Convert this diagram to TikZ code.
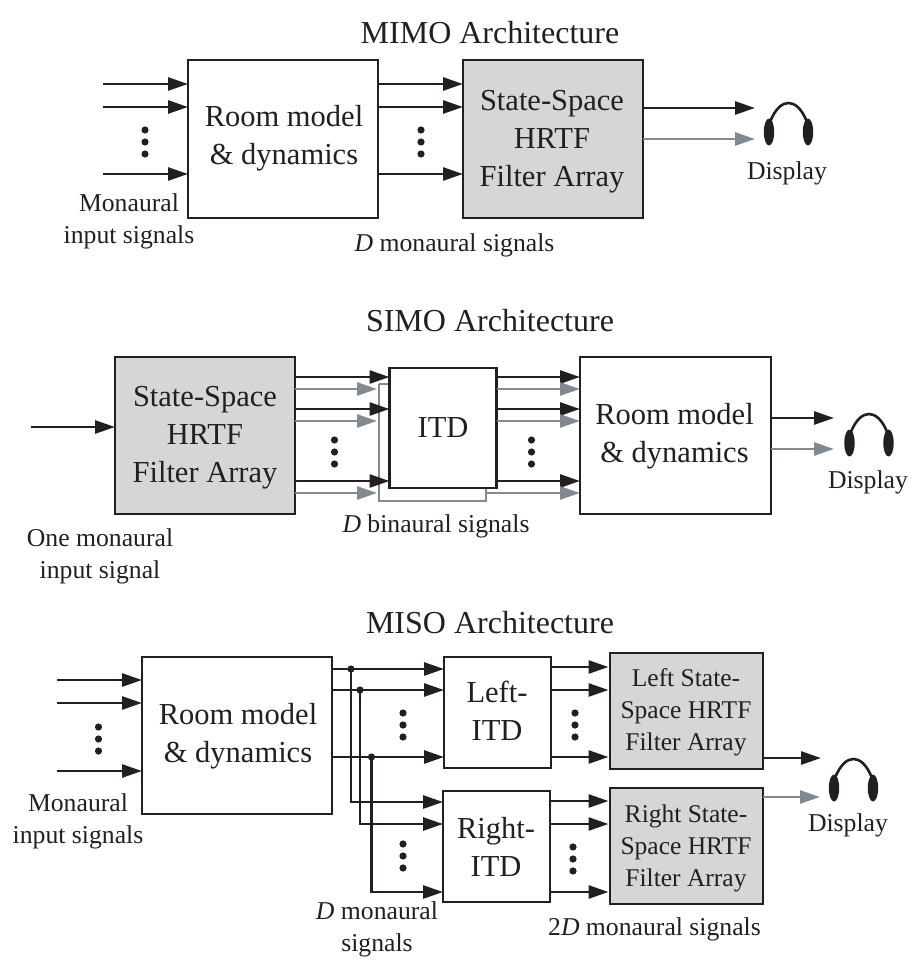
\documentclass[tikz,border=0pt]{standalone}
\usepackage{fontspec}
\setmainfont{Liberation Serif}
\usetikzlibrary{arrows.meta}
\definecolor{ink}{HTML}{231F20}
\definecolor{sigrey}{HTML}{808A90}
\definecolor{boxgrey}{HTML}{D4D6D8}
\tikzset{
  plainbox/.style={draw=ink,fill=white,line width=2.8pt,inner sep=0pt,outer sep=0pt,anchor=north west},
  greybox/.style={plainbox,fill=boxgrey},
  big/.style={text=ink,align=center,inner sep=0pt,font=\fontsize{30.5}{38}\selectfont},
  small/.style={text=ink,align=center,inner sep=0pt,font=\fontsize{25.5}{32}\selectfont},
  sig/.style={draw=ink,line width=2.7pt,-{Triangle[length=20pt,width=13pt]}},
  gsig/.style={draw=sigrey,line width=2.7pt,-{Triangle[length=20pt,width=13pt]}},
  label/.style={text=ink,align=center,font=\fontsize{25.7}{32}\selectfont,inner sep=0pt},
  heading/.style={text=ink,font=\fontsize{32}{36}\selectfont,inner sep=0pt},
  pics/phones/.style={code={
    \fill[ink] (-19.5,0) ellipse [x radius=5.2,y radius=13.5];
    \fill[ink] (19.5,0) ellipse [x radius=5.2,y radius=13.5];
    \draw[ink,line width=2.6pt] (-18.5,-10) .. controls (-13,-24) and (-6,-29) .. (0,-29) .. controls (6,-29) and (13,-24) .. (18.5,-10);
  }}
}
\newcommand{\vdotsat}[2]{\fill[ink] (#1,#2) circle (3.6) (#1,#2+12) circle (3.6) (#1,#2+24) circle (3.6);}
\begin{document}
\begin{tikzpicture}[x=1pt,y=-1pt]
\useasboundingbox (0,0) rectangle (912,960);
% ---------- MIMO
\node[heading] (t1) at (490,33) {MIMO Architecture};
\node[plainbox,minimum width=190pt,minimum height=158pt] (m1) at (188,60) {};
\node[big] (m1t) at (284,138.5) {Room model\\\& dynamics};
\node[greybox,minimum width=180pt,minimum height=158pt] (m2) at (463,60) {};
\node[big] (m2t) at (552,142) {State-Space\\HRTF\\Filter Array};
\coordinate (m1a) at (103,84); \coordinate (m1b) at (103,107); \coordinate (m1c) at (103,174);
\draw[sig] (m1a) -- (m1.west |- m1a);
\draw[sig] (m1b) -- (m1.west |- m1b);
\draw[sig] (m1c) -- (m1.west |- m1c);
\draw[sig] (m1.east |- m1a) -- (m2.west |- m1a);
\draw[sig] (m1.east |- m1b) -- (m2.west |- m1b);
\draw[sig] (m1.east |- m1c) -- (m2.west |- m1c);
\coordinate (mo1) at (755,108); \coordinate (mo2) at (755,139);
\draw[sig] (m2.east |- mo1) -- (mo1);
\draw[gsig] (m2.east |- mo2) -- (mo2);
\vdotsat{145}{130}
\vdotsat{421}{130}
\pic at (788.5,132) {phones};
\node[label] (d1) at (787,173) {Display};
\node[label] (l1) at (129,221) {Monaural\\input signals};
\node[label] (l2) at (454.5,245) {\textit{D} monaural signals};
% ---------- SIMO
\node[heading] (t2) at (490,321) {SIMO Architecture};
\draw[sigrey,line width=2.4pt] (379,384) -- (400,384) (379,384) -- (379,501) -- (486,501) -- (486,480);
\node[greybox,minimum width=180pt,minimum height=157pt] (s1) at (115,357) {};
\node[big] (s1t) at (205,438) {State-Space\\HRTF\\Filter Array};
\node[plainbox,minimum width=107pt,minimum height=120pt] (s2) at (389.5,368) {};
\node[big] (s2t) at (443,428) {ITD};
\node[plainbox,minimum width=191pt,minimum height=157pt] (s3) at (580,357) {};
\node[big] (s3t) at (674.5,436) {Room model\\\& dynamics};
\coordinate (si) at (31,427);
\draw[sig] (si) -- (s1.west |- si);
\coordinate (sga) at (377,389); \coordinate (sgb) at (377,421); \coordinate (sgc) at (377,493);
\coordinate (ska) at (0,377); \coordinate (skb) at (0,409); \coordinate (skc) at (0,481);
\draw[sig] (s1.east |- ska) -- (s2.west |- ska);
\draw[sig] (s1.east |- skb) -- (s2.west |- skb);
\draw[sig] (s1.east |- skc) -- (s2.west |- skc);
\draw[gsig] (s1.east |- sga) -- (sga);
\draw[gsig] (s1.east |- sgb) -- (sgb);
\draw[gsig] (s1.east |- sgc) -- (sgc);
\draw[sig] (s2.east |- ska) -- (s3.west |- ska);
\draw[sig] (s2.east |- skb) -- (s3.west |- skb);
\draw[sig] (s2.east |- skc) -- (s3.west |- skc);
\draw[gsig] (s2.east |- sga) -- (s3.west |- sga);
\draw[gsig] (s2.east |- sgb) -- (s3.west |- sgb);
\draw[gsig] (486,493) -- (s3.west |- sgc);
\vdotsat{334.5}{440}
\vdotsat{531.5}{440}
\coordinate (so1) at (834,418); \coordinate (so2) at (834,449);
\draw[sig] (s3.east |- so1) -- (so1);
\draw[gsig] (s3.east |- so2) -- (so2);
\pic at (869,443) {phones};
\node[label] (d2) at (868,482) {Display};
\node[label] (l3) at (100,556) {One monaural\\input signal};
\node[label] (l4) at (436,526) {\textit{D} binaural signals};
% ---------- MISO
\node[heading] (t3) at (490,623) {MISO Architecture};
\node[plainbox,minimum width=190pt,minimum height=157pt] (r1) at (142,657) {};
\node[big] (r1t) at (238,736.5) {Room model\\\& dynamics};
\node[plainbox,minimum width=107pt,minimum height=111pt] (r2) at (444,657) {};
\node[big] (r2t) at (497,711) {Left-\\ITD};
\node[plainbox,minimum width=107pt,minimum height=111pt] (r3) at (443,791) {};
\node[big] (r3t) at (496,847) {Right-\\ITD};
\node[greybox,minimum width=153pt,minimum height=116pt] (r4) at (610,653) {};
\node[small] (r4t) at (686,712) {Left State-\\Space HRTF\\Filter Array};
\node[greybox,minimum width=153pt,minimum height=116pt] (r5) at (610,788) {};
\node[small] (r5t) at (686,848) {Right State-\\Space HRTF\\Filter Array};
\coordinate (ri1) at (57,680); \coordinate (ri2) at (57,703); \coordinate (ri3) at (57,771);
\draw[sig] (ri1) -- (r1.west |- ri1);
\draw[sig] (ri2) -- (r1.west |- ri2);
\draw[sig] (ri3) -- (r1.west |- ri3);
\vdotsat{98.5}{727}
\coordinate (ja) at (351,669); \coordinate (jb) at (360,690); \coordinate (jc) at (371.5,757);
\draw[sig] (r1.east |- ja) -- (r2.west |- ja);
\draw[sig] (r1.east |- jb) -- (r2.west |- jb);
\draw[sig] (r1.east |- jc) -- (r2.west |- jc);
\draw[sig] (ja) |- (r3.west |- 0,802);
\draw[sig] (jb) |- (r3.west |- 0,824);
\draw[sig] (jc) |- (r3.west |- 0,892);
\fill[ink] (ja) circle (3.6) (jb) circle (3.6) (jc) circle (3.6);
\vdotsat{403}{713}
\vdotsat{403}{844}
\vdotsat{575}{713}
\vdotsat{573}{847}
\draw[sig,shorten >=1.5pt] (r2.east |- 0,667) -- (r4.west |- 0,667);
\draw[sig,shorten >=1.5pt] (r2.east |- 0,690) -- (r4.west |- 0,690);
\draw[sig,shorten >=1.5pt] (r2.east |- 0,757) -- (r4.west |- 0,757);
\draw[sig,shorten >=1.5pt] (r3.east |- 0,801) -- (r5.west |- 0,801);
\draw[sig,shorten >=1.5pt] (r3.east |- 0,824) -- (r5.west |- 0,824);
\draw[sig,shorten >=1.5pt] (r3.east |- 0,892) -- (r5.west |- 0,892);
\coordinate (ro1) at (821,758); \coordinate (ro2) at (820,797);
\draw[sig] (r4.east |- ro1) -- (ro1);
\draw[gsig] (r5.east |- ro2) -- (ro2);
\pic at (853.5,788) {phones};
\node[label] (d3) at (848,825) {Display};
\node[label] (l5) at (78,821) {Monaural\\input signals};
\node[label] (l6) at (377,929) {\textit{D} monaural\\signals};
\node[label] (l7) at (654.5,929.5) {2\textit{D} monaural signals};
\end{tikzpicture}
\end{document}
